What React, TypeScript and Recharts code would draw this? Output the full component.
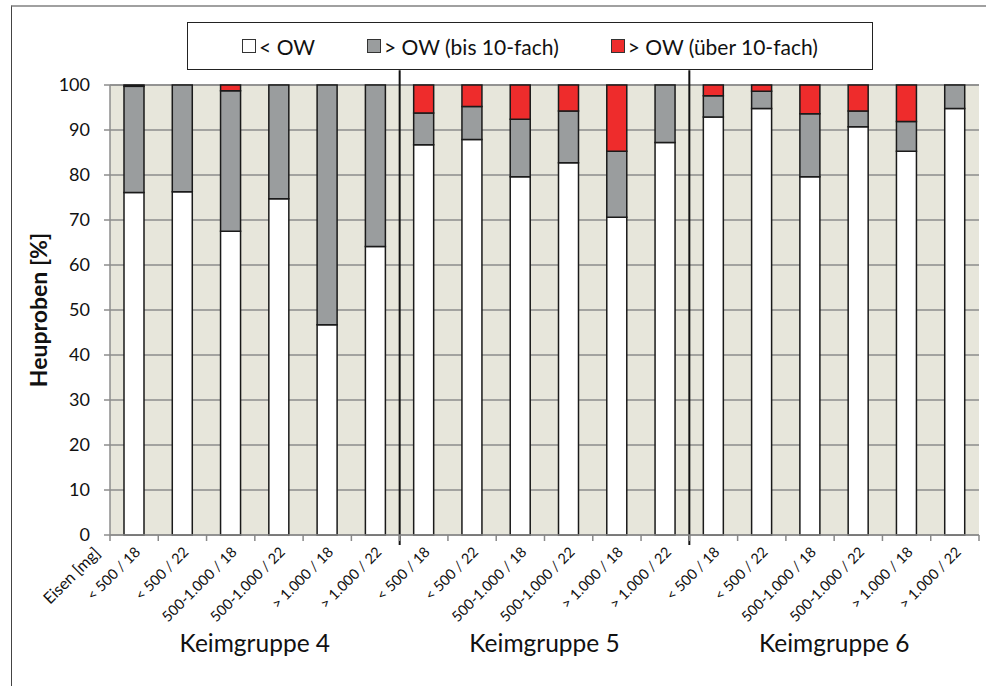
import React from 'react';
import { BarChart, Bar, XAxis, YAxis, CartesianGrid, ReferenceLine, Legend } from 'recharts';

const categories = [
  '< 500 / 18', '< 500 / 22', '500-1.000 / 18', '500-1.000 / 22', '> 1.000 / 18', '> 1.000 / 22',
  '< 500 / 18', '< 500 / 22', '500-1.000 / 18', '500-1.000 / 22', '> 1.000 / 18', '> 1.000 / 22',
  '< 500 / 18', '< 500 / 22', '500-1.000 / 18', '500-1.000 / 22', '> 1.000 / 18', '> 1.000 / 22',
];
const groups = [
  'Keimgruppe 4', 'Keimgruppe 4', 'Keimgruppe 4', 'Keimgruppe 4', 'Keimgruppe 4', 'Keimgruppe 4',
  'Keimgruppe 5', 'Keimgruppe 5', 'Keimgruppe 5', 'Keimgruppe 5', 'Keimgruppe 5', 'Keimgruppe 5',
  'Keimgruppe 6', 'Keimgruppe 6', 'Keimgruppe 6', 'Keimgruppe 6', 'Keimgruppe 6', 'Keimgruppe 6',
];
const belowOW = [76.1, 76.3, 67.5, 74.7, 46.7, 64.1, 86.7, 87.9, 79.6, 82.7, 70.6, 87.2, 92.9, 94.8, 79.6, 90.7, 85.3, 94.8];
const upTo10 = [23.6, 23.7, 31.2, 25.3, 53.3, 35.9, 7.1, 7.3, 12.8, 11.5, 14.7, 12.8, 4.7, 3.8, 14.0, 3.5, 6.6, 5.2];
const over10 = [0.3, 0, 1.3, 0, 0, 0, 6.2, 4.8, 7.6, 5.8, 14.7, 0, 2.4, 1.4, 6.4, 5.8, 8.1, 0];
const yTicks = [0, 10, 20, 30, 40, 50, 60, 70, 80, 90, 100];

const data = categories.map((c, i) => ({
  id: `${groups[i]}|${c}`,
  below: belowOW[i],
  mid: upTo10[i],
  high: over10[i],
}));

const FONT = "Lato, 'Liberation Sans', sans-serif";

const XTick = (props: any) => {
  const { x, y, payload, index } = props;
  const half = payload && payload.offset ? payload.offset : 24;
  return (
    <g>
      <line x1={x - half} y1={y} x2={x - half} y2={y + 6} stroke="#888" strokeWidth={1.5} />
      {index === categories.length - 1 && (
        <line x1={x + half} y1={y} x2={x + half} y2={y + 6} stroke="#888" strokeWidth={1.5} />
      )}
      <text
        transform={`translate(${x + 7},${y + 18}) rotate(-45)`}
        textAnchor="end"
        fontSize={14.5}
        fill="#111"
      >
        {categories[index]}
      </text>
      {index === 0 && (
        <text
          transform={`translate(${x - 33},${y + 19}) rotate(-45)`}
          textAnchor="end"
          fontSize={16}
          fill="#111"
        >
          Eisen [mg]
        </text>
      )}
      {index % 6 === 2 && (
        <text x={x + half} y={y + 117} textAnchor="middle" fontSize={24.5} fill="#111">
          {groups[index]}
        </text>
      )}
    </g>
  );
};

const renderLegend = (props: any) => {
  const { payload } = props;
  return (
    <div
      style={{
        width: '100%',
        height: '100%',
        boxSizing: 'border-box',
        border: '1.5px solid #222',
        background: '#fff',
        display: 'flex',
        alignItems: 'center',
        justifyContent: 'center',
        gap: 52,
        fontFamily: FONT,
        fontSize: 21,
        color: '#111',
      }}
    >
      {(payload || []).map((p: any) => (
        <div key={p.value} style={{ display: 'flex', alignItems: 'center' }}>
          <span
            style={{
              display: 'inline-block',
              width: 14,
              height: 14,
              boxSizing: 'border-box',
              border: '1px solid #333',
              background: p.color,
              marginRight: 3,
            }}
          />
          <span>{p.value}</span>
        </div>
      ))}
    </div>
  );
};

const YTitle = (props: any) => {
  const { viewBox } = props;
  const cx = viewBox.x + 38;
  const cy = viewBox.y + viewBox.height / 2;
  return (
    <text
      transform={`translate(${cx},${cy}) rotate(-90)`}
      textAnchor="middle"
      dominantBaseline="central"
      fontSize={23}
      fontWeight="bold"
      fill="#111"
    >
      Heuproben [%]
    </text>
  );
};

export default function App() {
  return (
    <div style={{ position: 'absolute', left: 0, top: 0, width: 986, height: 686, background: '#fff', fontFamily: FONT }}>
      <div
        style={{
          position: 'absolute',
          left: 11,
          top: 5,
          width: 975,
          height: 681,
          borderTop: '2px solid #a0a0a0',
          borderLeft: '1.5px solid #444',
        }}
      />
      <BarChart
        width={986}
        height={686}
        data={data}
        margin={{ top: 85, right: 7, bottom: 0, left: 0 }}
        barSize={20}
        style={{ position: 'absolute', left: 0, top: 0, fontFamily: FONT }}
      >
        <CartesianGrid vertical={false} fill="#e7e6db" stroke="#8c8c8c" strokeWidth={1.5} />
        <XAxis
          dataKey="id"
          height={151}
          interval={0}
          tickSize={0}
          tickMargin={0}
          tick={<XTick />}
          axisLine={{ stroke: '#8c8c8c', strokeWidth: 1.5 }}
          tickLine={false}
        />
        <YAxis
          width={110}
          domain={[0, 100]}
          ticks={yTicks}
          interval={0}
          tickSize={6}
          tickMargin={14}
          tick={{ fontSize: 18, fill: '#111' }}
          axisLine={{ stroke: '#8c8c8c', strokeWidth: 1.5 }}
          tickLine={{ stroke: '#8c8c8c', strokeWidth: 1.5 }}
          label={<YTitle />}
        />
        <Legend
          verticalAlign="middle"
          align="center"
          layout="horizontal"
          content={renderLegend}
          wrapperStyle={{ position: 'absolute', left: 187, top: 22, width: 686, height: 48 }}
        />
        <Bar dataKey="below" name="< OW" stackId="a" fill="#ffffff" stroke="#1a1a1a" strokeWidth={1.5} isAnimationActive={false} />
        <Bar dataKey="mid" name="> OW (bis 10-fach)" stackId="a" fill="#9a9d9e" stroke="#1a1a1a" strokeWidth={1.5} isAnimationActive={false} />
        <Bar dataKey="high" name="> OW (über 10-fach)" stackId="a" fill="#ee2c2c" stroke="#1a1a1a" strokeWidth={1.5} isAnimationActive={false} />
        <ReferenceLine
          position="start"
          ifOverflow="visible"
          segment={[{ x: data[6].id, y: 103.3 }, { x: data[6].id, y: -2.2 }]}
          stroke="#111"
          strokeWidth={2}
        />
        <ReferenceLine
          position="start"
          ifOverflow="visible"
          segment={[{ x: data[12].id, y: 103.3 }, { x: data[12].id, y: -2.2 }]}
          stroke="#111"
          strokeWidth={2}
        />
      </BarChart>
    </div>
  );
}
